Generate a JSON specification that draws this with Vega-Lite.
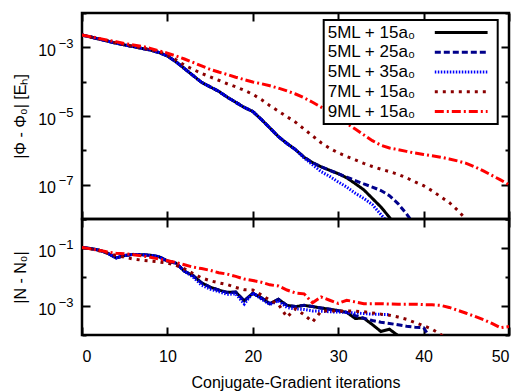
{
 "$schema": "https://vega.github.io/schema/vega-lite/v6.json",
 "padding": {"left": 11, "top": 10, "right": 5, "bottom": 5},
 "config": {
  "font": "Liberation Sans",
  "view": {"stroke": "black", "strokeWidth": 2.5},
  "axis": {"domain": false, "grid": false, "tickColor": "black", "tickWidth": 2, "labelFontSize": 16, "labelColor": "black", "titleFontSize": 16, "titleFontWeight": "normal", "titleColor": "black"},
  "legend": {"fillColor": "white", "strokeColor": "black", "padding": 4, "labelFontSize": 17, "labelColor": "black", "labelLimit": 400, "symbolSize": 121, "symbolType": "M-4.8,0L4.8,0", "symbolOffset": 125, "labelOffset": -142, "rowPadding": 1.75}
 },
 "datasets": {
  "top": [
   {"it":0,"run":"5ML + 15a₀","v":2.29e-3},{"it":1,"run":"5ML + 15a₀","v":2.00e-3},{"it":2,"run":"5ML + 15a₀","v":1.74e-3},{"it":3,"run":"5ML + 15a₀","v":1.51e-3},{"it":4,"run":"5ML + 15a₀","v":1.32e-3},{"it":5,"run":"5ML + 15a₀","v":1.17e-3},{"it":6,"run":"5ML + 15a₀","v":1.05e-3},{"it":7,"run":"5ML + 15a₀","v":9.33e-4},{"it":8,"run":"5ML + 15a₀","v":8.32e-4},{"it":9,"run":"5ML + 15a₀","v":7.08e-4},{"it":10,"run":"5ML + 15a₀","v":5.62e-4},{"it":11,"run":"5ML + 15a₀","v":3.80e-4},{"it":12,"run":"5ML + 15a₀","v":2.40e-4},{"it":13,"run":"5ML + 15a₀","v":1.51e-4},{"it":14,"run":"5ML + 15a₀","v":9.55e-5},{"it":15,"run":"5ML + 15a₀","v":7.08e-5},{"it":16,"run":"5ML + 15a₀","v":5.25e-5},{"it":17,"run":"5ML + 15a₀","v":3.55e-5},{"it":18,"run":"5ML + 15a₀","v":2.51e-5},{"it":19,"run":"5ML + 15a₀","v":1.78e-5},{"it":20,"run":"5ML + 15a₀","v":1.35e-5},{"it":21,"run":"5ML + 15a₀","v":7.94e-6},{"it":22,"run":"5ML + 15a₀","v":4.47e-6},{"it":23,"run":"5ML + 15a₀","v":2.51e-6},{"it":24,"run":"5ML + 15a₀","v":1.58e-6},{"it":25,"run":"5ML + 15a₀","v":1.05e-6},{"it":26,"run":"5ML + 15a₀","v":6.31e-7},{"it":27,"run":"5ML + 15a₀","v":4.37e-7},{"it":28,"run":"5ML + 15a₀","v":3.31e-7},{"it":29,"run":"5ML + 15a₀","v":2.63e-7},{"it":30,"run":"5ML + 15a₀","v":2.09e-7},{"it":31,"run":"5ML + 15a₀","v":1.58e-7},{"it":32,"run":"5ML + 15a₀","v":1.07e-7},{"it":33,"run":"5ML + 15a₀","v":7.08e-8},{"it":34,"run":"5ML + 15a₀","v":3.98e-8},{"it":35,"run":"5ML + 15a₀","v":2.24e-8},{"it":36,"run":"5ML + 15a₀","v":1.12e-8},{"it":37,"run":"5ML + 15a₀","v":5.01e-9},
   {"it":0,"run":"5ML + 25a₀","v":2.29e-3},{"it":1,"run":"5ML + 25a₀","v":2.00e-3},{"it":2,"run":"5ML + 25a₀","v":1.74e-3},{"it":3,"run":"5ML + 25a₀","v":1.51e-3},{"it":4,"run":"5ML + 25a₀","v":1.32e-3},{"it":5,"run":"5ML + 25a₀","v":1.17e-3},{"it":6,"run":"5ML + 25a₀","v":1.05e-3},{"it":7,"run":"5ML + 25a₀","v":9.33e-4},{"it":8,"run":"5ML + 25a₀","v":8.32e-4},{"it":9,"run":"5ML + 25a₀","v":7.08e-4},{"it":10,"run":"5ML + 25a₀","v":5.62e-4},{"it":11,"run":"5ML + 25a₀","v":3.80e-4},{"it":12,"run":"5ML + 25a₀","v":2.40e-4},{"it":13,"run":"5ML + 25a₀","v":1.51e-4},{"it":14,"run":"5ML + 25a₀","v":9.55e-5},{"it":15,"run":"5ML + 25a₀","v":7.08e-5},{"it":16,"run":"5ML + 25a₀","v":5.25e-5},{"it":17,"run":"5ML + 25a₀","v":3.55e-5},{"it":18,"run":"5ML + 25a₀","v":2.51e-5},{"it":19,"run":"5ML + 25a₀","v":1.78e-5},{"it":20,"run":"5ML + 25a₀","v":1.35e-5},{"it":21,"run":"5ML + 25a₀","v":7.94e-6},{"it":22,"run":"5ML + 25a₀","v":4.47e-6},{"it":23,"run":"5ML + 25a₀","v":2.51e-6},{"it":24,"run":"5ML + 25a₀","v":1.58e-6},{"it":25,"run":"5ML + 25a₀","v":1.05e-6},{"it":26,"run":"5ML + 25a₀","v":6.31e-7},{"it":27,"run":"5ML + 25a₀","v":4.37e-7},{"it":28,"run":"5ML + 25a₀","v":3.31e-7},{"it":29,"run":"5ML + 25a₀","v":2.63e-7},{"it":30,"run":"5ML + 25a₀","v":2.09e-7},{"it":31,"run":"5ML + 25a₀","v":1.66e-7},{"it":32,"run":"5ML + 25a₀","v":1.32e-7},{"it":33,"run":"5ML + 25a₀","v":1.05e-7},{"it":34,"run":"5ML + 25a₀","v":8.51e-8},{"it":35,"run":"5ML + 25a₀","v":6.76e-8},{"it":36,"run":"5ML + 25a₀","v":4.79e-8},{"it":37,"run":"5ML + 25a₀","v":2.82e-8},{"it":38,"run":"5ML + 25a₀","v":1.41e-8},{"it":39,"run":"5ML + 25a₀","v":6.31e-9},
   {"it":0,"run":"5ML + 35a₀","v":2.29e-3},{"it":1,"run":"5ML + 35a₀","v":2.00e-3},{"it":2,"run":"5ML + 35a₀","v":1.74e-3},{"it":3,"run":"5ML + 35a₀","v":1.51e-3},{"it":4,"run":"5ML + 35a₀","v":1.32e-3},{"it":5,"run":"5ML + 35a₀","v":1.17e-3},{"it":6,"run":"5ML + 35a₀","v":1.05e-3},{"it":7,"run":"5ML + 35a₀","v":9.33e-4},{"it":8,"run":"5ML + 35a₀","v":8.32e-4},{"it":9,"run":"5ML + 35a₀","v":7.08e-4},{"it":10,"run":"5ML + 35a₀","v":5.62e-4},{"it":11,"run":"5ML + 35a₀","v":3.80e-4},{"it":12,"run":"5ML + 35a₀","v":2.40e-4},{"it":13,"run":"5ML + 35a₀","v":1.51e-4},{"it":14,"run":"5ML + 35a₀","v":9.55e-5},{"it":15,"run":"5ML + 35a₀","v":7.08e-5},{"it":16,"run":"5ML + 35a₀","v":5.25e-5},{"it":17,"run":"5ML + 35a₀","v":3.55e-5},{"it":18,"run":"5ML + 35a₀","v":2.51e-5},{"it":19,"run":"5ML + 35a₀","v":1.78e-5},{"it":20,"run":"5ML + 35a₀","v":1.35e-5},{"it":21,"run":"5ML + 35a₀","v":7.94e-6},{"it":22,"run":"5ML + 35a₀","v":4.47e-6},{"it":23,"run":"5ML + 35a₀","v":2.51e-6},{"it":24,"run":"5ML + 35a₀","v":1.58e-6},{"it":25,"run":"5ML + 35a₀","v":1.05e-6},{"it":26,"run":"5ML + 35a₀","v":6.03e-7},{"it":27,"run":"5ML + 35a₀","v":3.80e-7},{"it":28,"run":"5ML + 35a₀","v":2.40e-7},{"it":29,"run":"5ML + 35a₀","v":1.74e-7},{"it":30,"run":"5ML + 35a₀","v":1.20e-7},{"it":31,"run":"5ML + 35a₀","v":8.51e-8},{"it":32,"run":"5ML + 35a₀","v":5.62e-8},{"it":33,"run":"5ML + 35a₀","v":3.98e-8},{"it":34,"run":"5ML + 35a₀","v":2.63e-8},{"it":35,"run":"5ML + 35a₀","v":1.35e-8},{"it":36,"run":"5ML + 35a₀","v":7.08e-9},
   {"it":0,"run":"7ML + 15a₀","v":2.29e-3},{"it":1,"run":"7ML + 15a₀","v":2.00e-3},{"it":2,"run":"7ML + 15a₀","v":1.78e-3},{"it":3,"run":"7ML + 15a₀","v":1.55e-3},{"it":4,"run":"7ML + 15a₀","v":1.35e-3},{"it":5,"run":"7ML + 15a₀","v":1.20e-3},{"it":6,"run":"7ML + 15a₀","v":1.07e-3},{"it":7,"run":"7ML + 15a₀","v":9.55e-4},{"it":8,"run":"7ML + 15a₀","v":8.51e-4},{"it":9,"run":"7ML + 15a₀","v":7.59e-4},{"it":10,"run":"7ML + 15a₀","v":6.03e-4},{"it":11,"run":"7ML + 15a₀","v":4.37e-4},{"it":12,"run":"7ML + 15a₀","v":3.02e-4},{"it":13,"run":"7ML + 15a₀","v":2.29e-4},{"it":14,"run":"7ML + 15a₀","v":1.74e-4},{"it":15,"run":"7ML + 15a₀","v":1.38e-4},{"it":16,"run":"7ML + 15a₀","v":1.10e-4},{"it":17,"run":"7ML + 15a₀","v":8.71e-5},{"it":18,"run":"7ML + 15a₀","v":7.08e-5},{"it":19,"run":"7ML + 15a₀","v":5.62e-5},{"it":20,"run":"7ML + 15a₀","v":4.27e-5},{"it":21,"run":"7ML + 15a₀","v":3.02e-5},{"it":22,"run":"7ML + 15a₀","v":2.00e-5},{"it":23,"run":"7ML + 15a₀","v":1.38e-5},{"it":24,"run":"7ML + 15a₀","v":9.55e-6},{"it":25,"run":"7ML + 15a₀","v":6.61e-6},{"it":26,"run":"7ML + 15a₀","v":4.17e-6},{"it":27,"run":"7ML + 15a₀","v":2.63e-6},{"it":28,"run":"7ML + 15a₀","v":1.66e-6},{"it":29,"run":"7ML + 15a₀","v":1.15e-6},{"it":30,"run":"7ML + 15a₀","v":8.51e-7},{"it":31,"run":"7ML + 15a₀","v":6.61e-7},{"it":32,"run":"7ML + 15a₀","v":5.25e-7},{"it":33,"run":"7ML + 15a₀","v":4.17e-7},{"it":34,"run":"7ML + 15a₀","v":3.39e-7},{"it":35,"run":"7ML + 15a₀","v":2.82e-7},{"it":36,"run":"7ML + 15a₀","v":2.40e-7},{"it":37,"run":"7ML + 15a₀","v":2.00e-7},{"it":38,"run":"7ML + 15a₀","v":1.58e-7},{"it":39,"run":"7ML + 15a₀","v":1.20e-7},{"it":40,"run":"7ML + 15a₀","v":9.33e-8},{"it":41,"run":"7ML + 15a₀","v":6.61e-8},{"it":42,"run":"7ML + 15a₀","v":4.47e-8},{"it":43,"run":"7ML + 15a₀","v":3.02e-8},{"it":44,"run":"7ML + 15a₀","v":1.78e-8},{"it":45,"run":"7ML + 15a₀","v":9.55e-9},
   {"it":0,"run":"9ML + 15a₀","v":2.29e-3},{"it":1,"run":"9ML + 15a₀","v":2.04e-3},{"it":2,"run":"9ML + 15a₀","v":1.82e-3},{"it":3,"run":"9ML + 15a₀","v":1.62e-3},{"it":4,"run":"9ML + 15a₀","v":1.45e-3},{"it":5,"run":"9ML + 15a₀","v":1.29e-3},{"it":6,"run":"9ML + 15a₀","v":1.17e-3},{"it":7,"run":"9ML + 15a₀","v":1.07e-3},{"it":8,"run":"9ML + 15a₀","v":9.33e-4},{"it":9,"run":"9ML + 15a₀","v":7.94e-4},{"it":10,"run":"9ML + 15a₀","v":6.76e-4},{"it":11,"run":"9ML + 15a₀","v":5.62e-4},{"it":12,"run":"9ML + 15a₀","v":4.57e-4},{"it":13,"run":"9ML + 15a₀","v":3.63e-4},{"it":14,"run":"9ML + 15a₀","v":2.88e-4},{"it":15,"run":"9ML + 15a₀","v":2.29e-4},{"it":16,"run":"9ML + 15a₀","v":1.91e-4},{"it":17,"run":"9ML + 15a₀","v":1.62e-4},{"it":18,"run":"9ML + 15a₀","v":1.35e-4},{"it":19,"run":"9ML + 15a₀","v":1.15e-4},{"it":20,"run":"9ML + 15a₀","v":9.77e-5},{"it":21,"run":"9ML + 15a₀","v":8.71e-5},{"it":22,"run":"9ML + 15a₀","v":7.59e-5},{"it":23,"run":"9ML + 15a₀","v":6.46e-5},{"it":24,"run":"9ML + 15a₀","v":5.37e-5},{"it":25,"run":"9ML + 15a₀","v":4.37e-5},{"it":26,"run":"9ML + 15a₀","v":3.39e-5},{"it":27,"run":"9ML + 15a₀","v":2.51e-5},{"it":28,"run":"9ML + 15a₀","v":1.82e-5},{"it":29,"run":"9ML + 15a₀","v":1.35e-5},{"it":30,"run":"9ML + 15a₀","v":8.91e-6},{"it":31,"run":"9ML + 15a₀","v":6.03e-6},{"it":32,"run":"9ML + 15a₀","v":4.17e-6},{"it":33,"run":"9ML + 15a₀","v":2.82e-6},{"it":34,"run":"9ML + 15a₀","v":1.91e-6},{"it":35,"run":"9ML + 15a₀","v":1.41e-6},{"it":36,"run":"9ML + 15a₀","v":1.17e-6},{"it":37,"run":"9ML + 15a₀","v":1.05e-6},{"it":38,"run":"9ML + 15a₀","v":9.33e-7},{"it":39,"run":"9ML + 15a₀","v":8.32e-7},{"it":40,"run":"9ML + 15a₀","v":7.59e-7},{"it":41,"run":"9ML + 15a₀","v":6.92e-7},{"it":42,"run":"9ML + 15a₀","v":6.31e-7},{"it":43,"run":"9ML + 15a₀","v":5.62e-7},{"it":44,"run":"9ML + 15a₀","v":4.90e-7},{"it":45,"run":"9ML + 15a₀","v":4.17e-7},{"it":46,"run":"9ML + 15a₀","v":3.31e-7},{"it":47,"run":"9ML + 15a₀","v":2.51e-7},{"it":48,"run":"9ML + 15a₀","v":1.86e-7},{"it":49,"run":"9ML + 15a₀","v":1.38e-7},{"it":50,"run":"9ML + 15a₀","v":1.00e-7}
  ],
  "bottom": [
   {"it":0,"run":"5ML + 15a₀","v":1.05e-1},{"it":1,"run":"5ML + 15a₀","v":9.55e-2},{"it":2,"run":"5ML + 15a₀","v":8.51e-2},{"it":3,"run":"5ML + 15a₀","v":6.61e-2},{"it":4,"run":"5ML + 15a₀","v":4.57e-2},{"it":5,"run":"5ML + 15a₀","v":5.50e-2},{"it":6,"run":"5ML + 15a₀","v":6.03e-2},{"it":7,"run":"5ML + 15a₀","v":5.89e-2},{"it":8,"run":"5ML + 15a₀","v":5.62e-2},{"it":9,"run":"5ML + 15a₀","v":5.01e-2},{"it":10,"run":"5ML + 15a₀","v":3.55e-2},{"it":11,"run":"5ML + 15a₀","v":3.02e-2},{"it":12,"run":"5ML + 15a₀","v":1.58e-2},{"it":13,"run":"5ML + 15a₀","v":1.12e-2},{"it":14,"run":"5ML + 15a₀","v":6.31e-3},{"it":15,"run":"5ML + 15a₀","v":4.47e-3},{"it":16,"run":"5ML + 15a₀","v":3.55e-3},{"it":17,"run":"5ML + 15a₀","v":2.95e-3},{"it":18,"run":"5ML + 15a₀","v":3.02e-3},{"it":19,"run":"5ML + 15a₀","v":1.51e-3},{"it":20,"run":"5ML + 15a₀","v":2.75e-3},{"it":21,"run":"5ML + 15a₀","v":1.91e-3},{"it":22,"run":"5ML + 15a₀","v":1.20e-3},{"it":23,"run":"5ML + 15a₀","v":1.70e-3},{"it":24,"run":"5ML + 15a₀","v":1.05e-3},{"it":25,"run":"5ML + 15a₀","v":9.55e-4},{"it":26,"run":"5ML + 15a₀","v":1.05e-3},{"it":27,"run":"5ML + 15a₀","v":9.55e-4},{"it":28,"run":"5ML + 15a₀","v":8.51e-4},{"it":29,"run":"5ML + 15a₀","v":7.76e-4},{"it":30,"run":"5ML + 15a₀","v":6.92e-4},{"it":31,"run":"5ML + 15a₀","v":6.03e-4},{"it":32,"run":"5ML + 15a₀","v":3.72e-4},{"it":33,"run":"5ML + 15a₀","v":3.80e-4},{"it":34,"run":"5ML + 15a₀","v":2.29e-4},{"it":35,"run":"5ML + 15a₀","v":1.32e-4},{"it":36,"run":"5ML + 15a₀","v":1.58e-4},{"it":37,"run":"5ML + 15a₀","v":9.55e-5},
   {"it":0,"run":"5ML + 25a₀","v":1.05e-1},{"it":1,"run":"5ML + 25a₀","v":9.55e-2},{"it":2,"run":"5ML + 25a₀","v":8.51e-2},{"it":3,"run":"5ML + 25a₀","v":6.61e-2},{"it":4,"run":"5ML + 25a₀","v":4.57e-2},{"it":5,"run":"5ML + 25a₀","v":5.50e-2},{"it":6,"run":"5ML + 25a₀","v":6.03e-2},{"it":7,"run":"5ML + 25a₀","v":5.89e-2},{"it":8,"run":"5ML + 25a₀","v":5.62e-2},{"it":9,"run":"5ML + 25a₀","v":5.01e-2},{"it":10,"run":"5ML + 25a₀","v":3.55e-2},{"it":11,"run":"5ML + 25a₀","v":3.02e-2},{"it":12,"run":"5ML + 25a₀","v":1.58e-2},{"it":13,"run":"5ML + 25a₀","v":1.12e-2},{"it":14,"run":"5ML + 25a₀","v":6.31e-3},{"it":15,"run":"5ML + 25a₀","v":4.47e-3},{"it":16,"run":"5ML + 25a₀","v":3.55e-3},{"it":17,"run":"5ML + 25a₀","v":2.95e-3},{"it":18,"run":"5ML + 25a₀","v":3.02e-3},{"it":19,"run":"5ML + 25a₀","v":1.51e-3},{"it":20,"run":"5ML + 25a₀","v":2.75e-3},{"it":21,"run":"5ML + 25a₀","v":1.91e-3},{"it":22,"run":"5ML + 25a₀","v":1.20e-3},{"it":23,"run":"5ML + 25a₀","v":1.70e-3},{"it":24,"run":"5ML + 25a₀","v":1.05e-3},{"it":25,"run":"5ML + 25a₀","v":9.55e-4},{"it":26,"run":"5ML + 25a₀","v":1.05e-3},{"it":27,"run":"5ML + 25a₀","v":9.55e-4},{"it":28,"run":"5ML + 25a₀","v":8.51e-4},{"it":29,"run":"5ML + 25a₀","v":7.76e-4},{"it":30,"run":"5ML + 25a₀","v":6.92e-4},{"it":31,"run":"5ML + 25a₀","v":6.03e-4},{"it":32,"run":"5ML + 25a₀","v":4.68e-4},{"it":33,"run":"5ML + 25a₀","v":3.80e-4},{"it":34,"run":"5ML + 25a₀","v":3.16e-4},{"it":35,"run":"5ML + 25a₀","v":2.75e-4},{"it":36,"run":"5ML + 25a₀","v":2.51e-4},{"it":37,"run":"5ML + 25a₀","v":2.24e-4},{"it":38,"run":"5ML + 25a₀","v":2.00e-4},{"it":39,"run":"5ML + 25a₀","v":1.86e-4},{"it":40,"run":"5ML + 25a₀","v":1.78e-4},{"it":41,"run":"5ML + 25a₀","v":6.31e-5},
   {"it":0,"run":"5ML + 35a₀","v":1.05e-1},{"it":1,"run":"5ML + 35a₀","v":9.55e-2},{"it":2,"run":"5ML + 35a₀","v":8.51e-2},{"it":3,"run":"5ML + 35a₀","v":6.61e-2},{"it":4,"run":"5ML + 35a₀","v":4.57e-2},{"it":5,"run":"5ML + 35a₀","v":5.50e-2},{"it":6,"run":"5ML + 35a₀","v":6.03e-2},{"it":7,"run":"5ML + 35a₀","v":5.89e-2},{"it":8,"run":"5ML + 35a₀","v":5.62e-2},{"it":9,"run":"5ML + 35a₀","v":5.01e-2},{"it":10,"run":"5ML + 35a₀","v":3.55e-2},{"it":11,"run":"5ML + 35a₀","v":3.02e-2},{"it":12,"run":"5ML + 35a₀","v":1.58e-2},{"it":13,"run":"5ML + 35a₀","v":1.00e-2},{"it":14,"run":"5ML + 35a₀","v":5.25e-3},{"it":15,"run":"5ML + 35a₀","v":3.80e-3},{"it":16,"run":"5ML + 35a₀","v":3.16e-3},{"it":17,"run":"5ML + 35a₀","v":2.51e-3},{"it":18,"run":"5ML + 35a₀","v":2.63e-3},{"it":19,"run":"5ML + 35a₀","v":1.17e-3},{"it":20,"run":"5ML + 35a₀","v":2.82e-3},{"it":21,"run":"5ML + 35a₀","v":1.74e-3},{"it":22,"run":"5ML + 35a₀","v":1.12e-3},{"it":23,"run":"5ML + 35a₀","v":1.51e-3},{"it":24,"run":"5ML + 35a₀","v":8.91e-4},{"it":25,"run":"5ML + 35a₀","v":7.94e-4},{"it":26,"run":"5ML + 35a₀","v":7.59e-4},{"it":27,"run":"5ML + 35a₀","v":6.76e-4},{"it":28,"run":"5ML + 35a₀","v":6.61e-4},{"it":29,"run":"5ML + 35a₀","v":6.31e-4},{"it":30,"run":"5ML + 35a₀","v":6.17e-4},{"it":31,"run":"5ML + 35a₀","v":6.03e-4},{"it":32,"run":"5ML + 35a₀","v":5.75e-4},{"it":33,"run":"5ML + 35a₀","v":5.50e-4},{"it":34,"run":"5ML + 35a₀","v":5.25e-4},{"it":35,"run":"5ML + 35a₀","v":5.13e-4},{"it":36,"run":"5ML + 35a₀","v":5.01e-4},
   {"it":0,"run":"7ML + 15a₀","v":1.05e-1},{"it":1,"run":"7ML + 15a₀","v":9.33e-2},{"it":2,"run":"7ML + 15a₀","v":7.94e-2},{"it":3,"run":"7ML + 15a₀","v":6.61e-2},{"it":4,"run":"7ML + 15a₀","v":5.50e-2},{"it":5,"run":"7ML + 15a₀","v":4.79e-2},{"it":6,"run":"7ML + 15a₀","v":4.17e-2},{"it":7,"run":"7ML + 15a₀","v":3.80e-2},{"it":8,"run":"7ML + 15a₀","v":3.55e-2},{"it":9,"run":"7ML + 15a₀","v":3.31e-2},{"it":10,"run":"7ML + 15a₀","v":3.02e-2},{"it":11,"run":"7ML + 15a₀","v":2.51e-2},{"it":12,"run":"7ML + 15a₀","v":1.91e-2},{"it":13,"run":"7ML + 15a₀","v":1.32e-2},{"it":14,"run":"7ML + 15a₀","v":9.33e-3},{"it":15,"run":"7ML + 15a₀","v":7.41e-3},{"it":16,"run":"7ML + 15a₀","v":6.31e-3},{"it":17,"run":"7ML + 15a₀","v":5.50e-3},{"it":18,"run":"7ML + 15a₀","v":4.37e-3},{"it":19,"run":"7ML + 15a₀","v":3.63e-3},{"it":20,"run":"7ML + 15a₀","v":3.55e-3},{"it":21,"run":"7ML + 15a₀","v":2.40e-3},{"it":22,"run":"7ML + 15a₀","v":1.58e-3},{"it":23,"run":"7ML + 15a₀","v":1.15e-3},{"it":24,"run":"7ML + 15a₀","v":4.17e-4},{"it":25,"run":"7ML + 15a₀","v":7.94e-4},{"it":26,"run":"7ML + 15a₀","v":5.01e-4},{"it":27,"run":"7ML + 15a₀","v":2.82e-4},{"it":28,"run":"7ML + 15a₀","v":6.61e-4},{"it":29,"run":"7ML + 15a₀","v":6.76e-4},{"it":30,"run":"7ML + 15a₀","v":6.76e-4},{"it":31,"run":"7ML + 15a₀","v":6.76e-4},{"it":32,"run":"7ML + 15a₀","v":6.61e-4},{"it":33,"run":"7ML + 15a₀","v":6.31e-4},{"it":34,"run":"7ML + 15a₀","v":5.75e-4},{"it":35,"run":"7ML + 15a₀","v":5.25e-4},{"it":36,"run":"7ML + 15a₀","v":4.79e-4},{"it":37,"run":"7ML + 15a₀","v":4.17e-4},{"it":38,"run":"7ML + 15a₀","v":3.47e-4},{"it":39,"run":"7ML + 15a₀","v":2.69e-4},{"it":40,"run":"7ML + 15a₀","v":2.09e-4},{"it":41,"run":"7ML + 15a₀","v":1.58e-4},{"it":42,"run":"7ML + 15a₀","v":1.05e-4},{"it":43,"run":"7ML + 15a₀","v":6.31e-5},
   {"it":0,"run":"9ML + 15a₀","v":1.05e-1},{"it":1,"run":"9ML + 15a₀","v":9.33e-2},{"it":2,"run":"9ML + 15a₀","v":8.32e-2},{"it":3,"run":"9ML + 15a₀","v":7.24e-2},{"it":4,"run":"9ML + 15a₀","v":6.61e-2},{"it":5,"run":"9ML + 15a₀","v":6.31e-2},{"it":6,"run":"9ML + 15a₀","v":5.89e-2},{"it":7,"run":"9ML + 15a₀","v":5.37e-2},{"it":8,"run":"9ML + 15a₀","v":4.79e-2},{"it":9,"run":"9ML + 15a₀","v":4.17e-2},{"it":10,"run":"9ML + 15a₀","v":3.63e-2},{"it":11,"run":"9ML + 15a₀","v":3.16e-2},{"it":12,"run":"9ML + 15a₀","v":2.63e-2},{"it":13,"run":"9ML + 15a₀","v":2.19e-2},{"it":14,"run":"9ML + 15a₀","v":1.95e-2},{"it":15,"run":"9ML + 15a₀","v":1.70e-2},{"it":16,"run":"9ML + 15a₀","v":1.41e-2},{"it":17,"run":"9ML + 15a₀","v":1.26e-2},{"it":18,"run":"9ML + 15a₀","v":1.05e-2},{"it":19,"run":"9ML + 15a₀","v":8.51e-3},{"it":20,"run":"9ML + 15a₀","v":7.59e-3},{"it":21,"run":"9ML + 15a₀","v":6.61e-3},{"it":22,"run":"9ML + 15a₀","v":5.37e-3},{"it":23,"run":"9ML + 15a₀","v":4.90e-3},{"it":24,"run":"9ML + 15a₀","v":3.55e-3},{"it":25,"run":"9ML + 15a₀","v":2.82e-3},{"it":26,"run":"9ML + 15a₀","v":2.63e-3},{"it":27,"run":"9ML + 15a₀","v":1.29e-3},{"it":28,"run":"9ML + 15a₀","v":2.04e-3},{"it":29,"run":"9ML + 15a₀","v":1.58e-3},{"it":30,"run":"9ML + 15a₀","v":1.23e-3},{"it":31,"run":"9ML + 15a₀","v":1.58e-3},{"it":32,"run":"9ML + 15a₀","v":1.38e-3},{"it":33,"run":"9ML + 15a₀","v":1.20e-3},{"it":34,"run":"9ML + 15a₀","v":1.20e-3},{"it":35,"run":"9ML + 15a₀","v":1.20e-3},{"it":36,"run":"9ML + 15a₀","v":1.17e-3},{"it":37,"run":"9ML + 15a₀","v":1.15e-3},{"it":38,"run":"9ML + 15a₀","v":1.15e-3},{"it":39,"run":"9ML + 15a₀","v":1.15e-3},{"it":40,"run":"9ML + 15a₀","v":1.12e-3},{"it":41,"run":"9ML + 15a₀","v":1.10e-3},{"it":42,"run":"9ML + 15a₀","v":1.05e-3},{"it":43,"run":"9ML + 15a₀","v":8.91e-4},{"it":44,"run":"9ML + 15a₀","v":7.08e-4},{"it":45,"run":"9ML + 15a₀","v":5.62e-4},{"it":46,"run":"9ML + 15a₀","v":4.37e-4},{"it":47,"run":"9ML + 15a₀","v":3.39e-4},{"it":48,"run":"9ML + 15a₀","v":2.51e-4},{"it":49,"run":"9ML + 15a₀","v":1.78e-4},{"it":50,"run":"9ML + 15a₀","v":1.95e-4}
  ]
 },
 "spacing": 0,
 "bounds": "flush",
 "resolve": {"legend": {"color": "independent", "strokeDash": "independent", "strokeWidth": "independent"}},
 "vconcat": [
  {
   "width": 427, "height": 206,
   "data": {"name": "top"},
   "layer": [
    {
     "mark": {"type": "line", "clip": true},
     "encoding": {
      "x": {"field": "it", "type": "quantitative", "scale": {"domain": [0, 50]}, "axis": {"orient": "bottom", "values": [0, 10, 20, 30, 40, 50], "tickSize": -8, "labels": false, "title": null}},
      "y": {"field": "v", "type": "quantitative", "scale": {"type": "log", "domain": [1e-8, 1e-2]}, "axis": {"orient": "left", "values": [1e-8, 1e-7, 1e-6, 1e-5, 1e-4, 1e-3, 1e-2], "tickSize": {"condition": {"test": "round(log(datum.value)/LN10) % 2 != 0", "value": -8}, "value": -4}, "labelPadding": 34.5, "labelOffset": 3, "labelExpr": "round(log(datum.value)/LN10) % 2 != 0 ? '10' : ''", "title": "|Φ - Φ₀| [Eₕ]", "titlePadding": 9}},
      "color": {"field": "run", "type": "nominal", "scale": {"domain": ["5ML + 15a₀", "5ML + 25a₀", "5ML + 35a₀", "7ML + 15a₀", "9ML + 15a₀"], "range": ["#000000", "#00008b", "#0000ff", "#8b0000", "#ff0000"]}, "legend": {"title": null, "orient": "none", "legendX": 241.7, "legendY": 7, "encode": {"legend": {"update": {"strokeWidth": {"value": 2}}}}}},
      "strokeDash": {"field": "run", "type": "nominal", "scale": {"domain": ["5ML + 15a₀", "5ML + 25a₀", "5ML + 35a₀", "7ML + 15a₀", "9ML + 15a₀"], "range": [[1, 0], [6, 3], [1.5, 1.5], [3, 5], [9, 3, 2, 3]]}, "legend": {"title": null, "orient": "none", "legendX": 241.7, "legendY": 7, "encode": {"legend": {"update": {"strokeWidth": {"value": 2}}}}}},
      "strokeWidth": {"field": "run", "type": "ordinal", "scale": {"domain": ["5ML + 15a₀", "5ML + 25a₀", "5ML + 35a₀", "7ML + 15a₀", "9ML + 15a₀"], "range": [3, 3, 1.5, 3, 2]}, "legend": {"title": null, "orient": "none", "legendX": 241.7, "legendY": 7, "encode": {"legend": {"update": {"strokeWidth": {"value": 2}}}}}}
     }
    },
    {
     "mark": {"type": "point", "opacity": 0, "clip": true},
     "encoding": {
      "x": {"field": "it", "type": "quantitative", "scale": {"domain": [0, 50]}, "axis": {"orient": "top", "values": [0, 10, 20, 30, 40, 50], "tickSize": -8, "labels": false, "title": null}},
      "y": {"field": "v", "type": "quantitative", "scale": {"type": "log", "domain": [1e-8, 1e-2]}, "axis": {"orient": "right", "values": [1e-8, 1e-7, 1e-6, 1e-5, 1e-4, 1e-3, 1e-2], "tickSize": {"condition": {"test": "round(log(datum.value)/LN10) % 2 != 0", "value": -8}, "value": -4}, "labels": false, "title": null}}
     }
    },
    {
     "mark": {"type": "point", "opacity": 0, "clip": true},
     "encoding": {
      "y": {"field": "v", "type": "quantitative", "scale": {"type": "log", "domain": [1e-8, 1e-2]}, "axis": {"orient": "left", "values": [1e-7, 1e-5, 1e-3], "ticks": false, "labelPadding": 9, "labelOffset": -4, "labelFontSize": 13, "labelExpr": "'−' + abs(round(log(datum.value)/LN10))", "title": null}}
     }
    }
   ],
   "resolve": {"axis": {"x": "independent", "y": "independent"}}
  },
  {
   "width": 427, "height": 116,
   "data": {"name": "bottom"},
   "layer": [
    {
     "mark": {"type": "line", "clip": true},
     "encoding": {
      "x": {"field": "it", "type": "quantitative", "scale": {"domain": [0, 50]}, "axis": {"orient": "bottom", "values": [0, 10, 20, 30, 40, 50], "tickSize": -8, "labelPadding": 21, "title": "Conjugate-Gradient iterations", "titlePadding": 10}},
      "y": {"field": "v", "type": "quantitative", "scale": {"type": "log", "domain": [1e-4, 1]}, "axis": {"orient": "left", "values": [1e-4, 1e-3, 1e-2, 1e-1, 1], "tickSize": {"condition": {"test": "round(log(datum.value)/LN10) % 2 != 0", "value": -8}, "value": -4}, "labelPadding": 34.5, "labelOffset": 3, "labelExpr": "round(log(datum.value)/LN10) % 2 != 0 ? '10' : ''", "title": "|N - N₀|", "titlePadding": 9}},
      "color": {"field": "run", "type": "nominal", "scale": {"domain": ["5ML + 15a₀", "5ML + 25a₀", "5ML + 35a₀", "7ML + 15a₀", "9ML + 15a₀"], "range": ["#000000", "#00008b", "#0000ff", "#8b0000", "#ff0000"]}, "legend": null},
      "strokeDash": {"field": "run", "type": "nominal", "scale": {"domain": ["5ML + 15a₀", "5ML + 25a₀", "5ML + 35a₀", "7ML + 15a₀", "9ML + 15a₀"], "range": [[1, 0], [6, 3], [1.5, 1.5], [3, 5], [9, 3, 2, 3]]}, "legend": null},
      "strokeWidth": {"field": "run", "type": "ordinal", "scale": {"domain": ["5ML + 15a₀", "5ML + 25a₀", "5ML + 35a₀", "7ML + 15a₀", "9ML + 15a₀"], "range": [3, 3, 1.5, 3, 2]}, "legend": null}
     }
    },
    {
     "mark": {"type": "point", "opacity": 0, "clip": true},
     "encoding": {
      "x": {"field": "it", "type": "quantitative", "scale": {"domain": [0, 50]}, "axis": {"orient": "top", "values": [0, 10, 20, 30, 40, 50], "tickSize": -8, "labels": false, "title": null}},
      "y": {"field": "v", "type": "quantitative", "scale": {"type": "log", "domain": [1e-4, 1]}, "axis": {"orient": "right", "values": [1e-4, 1e-3, 1e-2, 1e-1, 1], "tickSize": {"condition": {"test": "round(log(datum.value)/LN10) % 2 != 0", "value": -8}, "value": -4}, "labels": false, "title": null}}
     }
    },
    {
     "mark": {"type": "point", "opacity": 0, "clip": true},
     "encoding": {
      "y": {"field": "v", "type": "quantitative", "scale": {"type": "log", "domain": [1e-4, 1]}, "axis": {"orient": "left", "values": [1e-3, 1e-1], "ticks": false, "labelPadding": 9, "labelOffset": -4, "labelFontSize": 13, "labelExpr": "'−' + abs(round(log(datum.value)/LN10))", "title": null}}
     }
    }
   ],
   "resolve": {"axis": {"x": "independent", "y": "independent"}}
  }
 ]
}
